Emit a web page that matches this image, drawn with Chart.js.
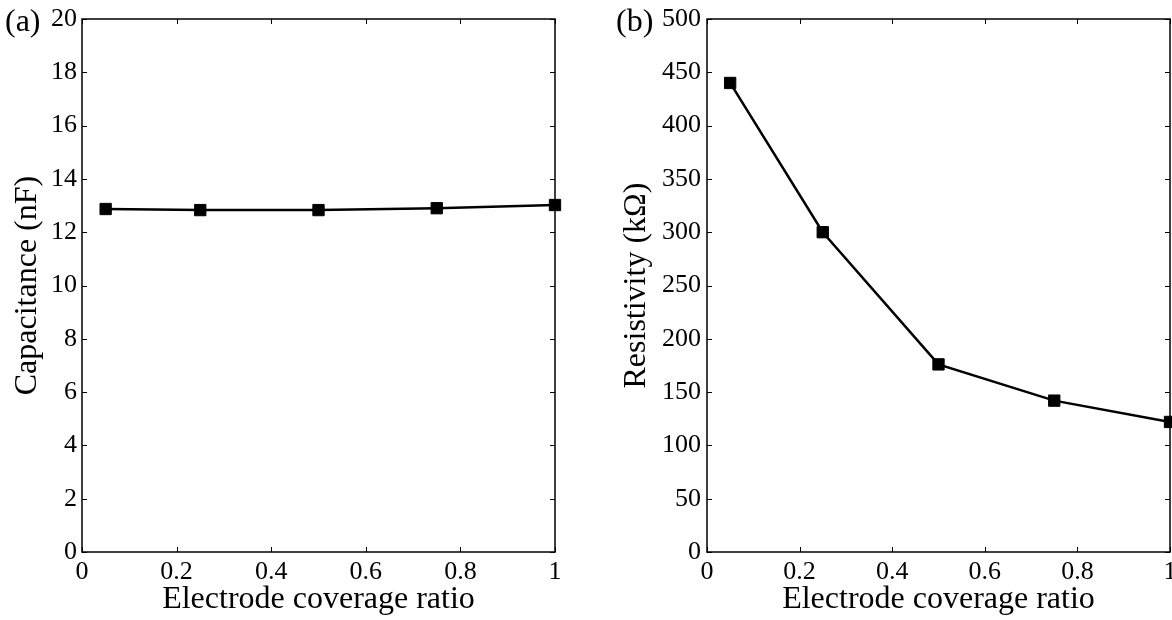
<!DOCTYPE html>
<html><head><meta charset="utf-8">
<script src="https://cdn.jsdelivr.net/npm/chart.js@4"></script>
<style>
html,body{margin:0;padding:0;background:#fff;width:1172px;height:620px;overflow:hidden;position:relative}
.wrap{position:absolute;top:0;height:620px}
.lbl{position:absolute;font-family:"Liberation Serif","Times New Roman",serif;font-size:32px;color:#000;line-height:1}
</style></head><body>
<div class="wrap" style="left:0;width:600px"><canvas id="c1" width="600" height="620"></canvas></div>
<div class="wrap" style="left:600px;width:572px"><canvas id="c2" width="572" height="620"></canvas></div>
<span class="lbl" style="left:5px;top:4px">(a)</span>
<span class="lbl" style="left:616px;top:4px">(b)</span>
<script>
const coverage = [0.05, 0.25, 0.5, 0.75, 1.0];
const capacitance = [12.87, 12.83, 12.83, 12.9, 13.02];
const resistivity = [440, 300, 176, 142, 122];
const xTicks = [0, 0.2, 0.4, 0.6, 0.8, 1];
const xTickLabels = ['0', '0.2', '0.4', '0.6', '0.8', '1'];
const capTicks = [0, 2, 4, 6, 8, 10, 12, 14, 16, 18, 20];
const capTickLabels = ['0', '2', '4', '6', '8', '10', '12', '14', '16', '18', '20'];
const resTicks = [0, 50, 100, 150, 200, 250, 300, 350, 400, 450, 500];
const resTickLabels = ['0', '50', '100', '150', '200', '250', '300', '350', '400', '450', '500'];

const FAM = '"Liberation Serif","Times New Roman",serif';

const framePlugin = {
  id: 'frame',
  afterDraw(chart) {
    const {ctx, chartArea: a, scales} = chart;
    ctx.save();
    ctx.strokeStyle = '#000';
    ctx.lineWidth = 1;
    const L = 5;
    ctx.beginPath();
    scales.x.ticks.forEach(t => {
      const px = Math.round(scales.x.getPixelForValue(t.value)) + 0.5;
      ctx.moveTo(px, a.bottom); ctx.lineTo(px, a.bottom - L);
      ctx.moveTo(px, a.top); ctx.lineTo(px, a.top + L);
    });
    scales.y.ticks.forEach(t => {
      const py = Math.round(scales.y.getPixelForValue(t.value)) + 0.5;
      ctx.moveTo(a.left, py); ctx.lineTo(a.left + L, py);
      ctx.moveTo(a.right, py); ctx.lineTo(a.right - L, py);
    });
    ctx.stroke();
    ctx.lineWidth = 1.5;
    ctx.strokeRect(a.left, a.top, a.right - a.left, a.bottom - a.top);
    ctx.restore();
  }
};

function makeChart(id, yVals, yTicks, yLabels, yTitle, yMax, rightPad, yWidth, yTitlePad, yTickPad) {
  return new Chart(document.getElementById(id), {
    type: 'line',
    data: {
      datasets: [{
        data: coverage.map((c, i) => ({x: c, y: yVals[i]})),
        borderColor: '#000',
        backgroundColor: '#000',
        borderWidth: 2.5,
        pointStyle: 'rect',
        pointRadius: 8,
        pointBorderWidth: 1,
        pointBackgroundColor: '#000',
        pointBorderColor: '#000',
        tension: 0,
        clip: false
      }]
    },
    options: {
      responsive: false,
      animation: false,
      devicePixelRatio: 1,
      layout: {autoPadding: false, padding: {left: 0, top: 19, right: rightPad, bottom: 0}},
      plugins: {legend: {display: false}, tooltip: {enabled: false}},
      scales: {
        x: {
          type: 'linear', min: 0, max: 1,
          afterBuildTicks: s => { s.ticks = xTicks.map(v => ({value: v})); },
          ticks: {callback: (v, i) => xTickLabels[i], font: {family: FAM, size: 26}, color: '#000', padding: 5, maxRotation: 0, autoSkip: false},
          grid: {display: false, drawTicks: false},
          border: {display: false},
          title: {display: true, text: 'Electrode coverage ratio', font: {family: FAM, size: 32}, color: '#000', padding: {top: 0, bottom: 1}},
          afterFit: s => { s.height = 68; s.paddingLeft = 0; s.paddingRight = 0; }
        },
        y: {
          type: 'linear', min: 0, max: yMax,
          afterBuildTicks: s => { s.ticks = yTicks.map(v => ({value: v})); },
          ticks: {callback: (v, i) => yLabels[i], font: {family: FAM, size: 26}, color: '#000', padding: yTickPad, autoSkip: false},
          grid: {display: false, drawTicks: false},
          border: {display: false},
          title: {display: true, text: yTitle, font: {family: FAM, size: 32}, color: '#000', padding: {top: yTitlePad, bottom: 0}},
          afterFit: s => { s.width = yWidth; s.paddingTop = 0; s.paddingBottom = 0; }
        }
      }
    },
    plugins: [framePlugin]
  });
}

makeChart('c1', capacitance, capTicks, capTickLabels, 'Capacitance (nF)', 20, 45, 82, 8, 5);
makeChart('c2', resistivity, resTicks, resTickLabels, 'Resistivity (kΩ)', 500, 2, 107, 17, 6);
</script>
</body></html>
